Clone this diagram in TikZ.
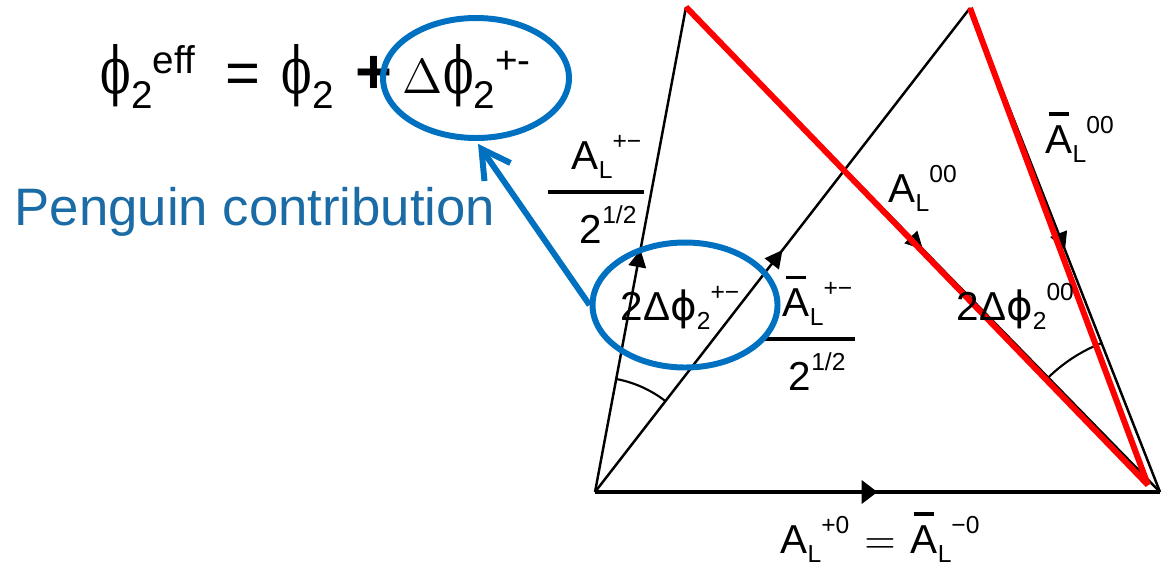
\RequirePackage{fix-cm}
\documentclass[tikz,border=0pt]{standalone}
\usepackage{amsmath}
\usepackage{fontspec}
\setmainfont{Liberation Sans}
\newfontfamily\phiserif{DejaVu Serif}
\newfontfamily\phisans{DejaVu Sans}
\usetikzlibrary{arrows.meta,positioning,angles,shapes.geometric,decorations.markings}
\definecolor{penblue}{HTML}{0070C0}
\definecolor{pentext}{HTML}{1B6BA6}
\definecolor{sidered}{HTML}{FF0000}
\newcommand{\bigphi}{\scalebox{0.75}[1.08]{\phiserif\fontsize{17}{17}\selectfont ϕ}}
\newcommand{\lowsub}[1]{\raisebox{-0.15cm}{\fontsize{11}{11}\selectfont #1}}
\newcommand{\highsup}[1]{\raisebox{0.2cm}{\fontsize{11}{11}\selectfont #1}}
\newcommand{\ampdn}[1]{\raisebox{-0.09cm}{\fontsize{7}{8}\selectfont #1}}
\newcommand{\ampup}[1]{\raisebox{0.2cm}{\fontsize{7}{8}\selectfont #1}}
\newcommand{\barA}{\rlap{\hspace{0.03cm}\raisebox{0.37cm}{\rule{0.2cm}{1.1pt}}}A}
\newcommand{\dphi}{{\phisans ϕ}}

\begin{document}
\begin{tikzpicture}[
  side/.style={line width=0.7pt,postaction={decorate},decoration={markings,mark=at position 0.5 with {\arrow{Triangle[length=5pt,width=5pt]}}}},
  base/.style={line width=1.4pt,postaction={decorate},decoration={markings,mark=at position 0.5 with {\arrow{Triangle[length=4.5pt,width=6.5pt]}}}},
  redside/.style={sidered,line width=1.7pt},
  ring/.style={ellipse,draw=penblue,line width=1.7pt,inner sep=0pt},
  pointer/.style={-{Straight Barb[length=8pt,width=9pt]},penblue,line width=1.7pt,shorten >=1pt},
  amp/.style={font=\fontsize{11.5}{14}\selectfont,inner sep=0pt,anchor=base west}
]
  \useasboundingbox (0,0) rectangle (11.73,5.62);

  \coordinate (O) at (5.95,0.70);
  \coordinate (T1) at (6.86,5.55);
  \coordinate (T2) at (9.70,5.54);
  \coordinate (R) at (11.60,0.70);
  \coordinate (E) at (11.48,0.77);

  \draw[side] (O) -- (T1);
  \draw[side] (O) -- (T2);
  \draw[side] (T1) -- (R);
  \draw[side] (T2) -- (R);
  \draw[base] (O) -- (R);
  \pic[draw,line width=0.6pt,angle radius=1.15cm] {angle=T2--O--T1};
  \pic[draw,line width=0.6pt,angle radius=1.6cm] {angle=T2--R--T1};
  \draw[redside] (T1) -- (E);
  \draw[redside] (T2) -- (E);

  \node[amp] (ampc) at (5.43,3.60) {$\genfrac{}{}{1.1pt}{0}{\hspace{0.24cm}\mbox{A\ampdn{L}\ampup{+−}}\hspace{0.03cm}}{\hspace{0.27cm}\mbox{2\ampup{1/2}}\hspace{0.03cm}}$};
  \node[amp] (ampn) at (8.88,3.60) {A\ampdn{L}\ampup{00}};
  \node[amp] (ampnb) at (10.45,4.09) {\barA\ampdn{L}\ampup{00}};
  \node[amp] (dphic) at (6.20,2.42) {2Δ\dphi\ampdn{2}\ampup{+−}};
  \node[amp] (ampcb) at (7.55,2.13) {$\genfrac{}{}{1.1pt}{0}{\hspace{0.23cm}\mbox{\barA\ampdn{L}\ampup{+−}}\hspace{0.03cm}}{\hspace{0.22cm}\mbox{2\ampup{1/2}}\hspace{0.03cm}}$};
  \node[amp] (dphin) at (9.56,2.42) {2Δ\dphi\ampdn{2}\ampup{00}};
  \node[amp] (ampz) at (7.80,0.09) {A\ampdn{L}\ampup{+0}\hspace{0.15cm}$=$\hspace{0.15cm}\barA\ampdn{L}\ampup{−0}};

  \node[anchor=base west,inner sep=0pt,font=\fontsize{17}{20}\selectfont] (eqn) at (1.00,4.69)
    {\bigphi\lowsub{2}\highsup{eff}\hspace{0.3cm}=\hspace{0.22cm}\bigphi\lowsub{2}\hspace{0.22cm}{\fontsize{18}{18}\selectfont\textbf{+}}\hspace{0.1cm}{\fontsize{14}{14}\selectfont$\Delta$}\bigphi\lowsub{2}\highsup{+-}};
  \node[ring,minimum width=1.86cm,minimum height=1.20cm] (pen1) at (4.76,4.84) {};
  \node[ring,minimum width=1.85cm,minimum height=1.25cm] (pen2) at (6.85,2.57) {};
  \draw[pointer] (pen2.west) -- (pen1.south);
  \node[anchor=base west,inner sep=0pt,text=pentext,font=\fontsize{15}{18}\selectfont] (pentxt) at (0.14,3.37) {Penguin contribution};
\end{tikzpicture}
\end{document}
